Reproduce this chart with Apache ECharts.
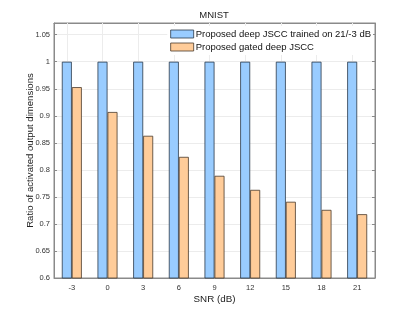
<!DOCTYPE html>
<html><head><meta charset="utf-8">
<script src="https://cdn.jsdelivr.net/npm/echarts@6/dist/echarts.min.js"></script>
<style>html,body{margin:0;padding:0;background:#fff}#c{width:415px;height:312px}</style>
</head><body><div id="c"></div>
<script>
const categories = ['-3','0','3','6','9','12','15','18','21'];
const fixedDims = [1,1,1,1,1,1,1,1,1];
const gatedDims = [0.953,0.907,0.863,0.824,0.789,0.763,0.741,0.726,0.718];
const seriesNames = ['Proposed deep JSCC trained on 21/-3 dB','Proposed gated deep JSCC'];
const FONT = 'Liberation Sans, Arial, Helvetica, sans-serif';
const axisCol = '#8a8a8a';
const chart = echarts.init(document.getElementById('c'), null, {renderer:'canvas'});
chart.setOption({
  animation:false,
  backgroundColor:'#fff',
  title:{text:'MNIST',left:214,top:10,textAlign:'center',padding:0,textStyle:{fontFamily:FONT,fontSize:9.5,fontWeight:'normal',color:'#222'}},
  legend:{
    orient:'vertical',right:42,top:26,itemWidth:23,itemHeight:8,itemGap:3,
    backgroundColor:'#fff',padding:[3,2,3,3],
    itemStyle:{borderWidth:0.8},
    textStyle:{fontFamily:FONT,fontSize:9.5,color:'#111',padding:[0,0,0,-3]},
    data:seriesNames.map(n=>({name:n,icon:'rect'}))
  },
  grid:{left:54,right:40,top:23,bottom:34,show:true,borderColor:axisCol,borderWidth:1,backgroundColor:'transparent'},
  xAxis:[{
    type:'category',data:categories,
    name:'SNR (dB)',nameLocation:'middle',nameGap:16,nameMoveOverlap:false,
    nameTextStyle:{fontFamily:FONT,fontSize:9.8,color:'#222'},
    axisLine:{lineStyle:{color:axisCol}},
    axisTick:{alignWithLabel:true,inside:true,length:3,lineStyle:{color:axisCol}},
    axisLabel:{fontFamily:FONT,fontSize:7.5,color:'#333',margin:6},
    splitLine:{show:false}
  },{
    type:'category',data:categories,position:'top',
    axisLine:{lineStyle:{color:axisCol}},
    axisTick:{alignWithLabel:true,inside:true,length:3,lineStyle:{color:axisCol}},
    axisLabel:{show:false}
  }],
  yAxis:[{
    type:'value',min:0.6,max:1.0716,interval:0.05,
    name:'Ratio of activated output dimensions',nameLocation:'middle',nameGap:19,nameMoveOverlap:false,
    nameTextStyle:{fontFamily:FONT,fontSize:9.6,color:'#222'},
    axisLine:{show:true,lineStyle:{color:axisCol}},
    axisTick:{show:true,inside:true,length:3,lineStyle:{color:axisCol}},
    axisLabel:{fontFamily:FONT,fontSize:7.5,color:'#333',margin:4,showMaxLabel:false,
      formatter:v=>{const r=Math.round(v*100)/100;return String(r);}},
    splitLine:{show:true,lineStyle:{color:'#ececec',width:1}}
  },{
    type:'value',min:0.6,max:1.0716,interval:0.05,position:'right',
    axisLine:{show:true,lineStyle:{color:axisCol}},
    axisTick:{show:true,inside:true,length:3,lineStyle:{color:axisCol}},
    axisLabel:{show:false},splitLine:{show:false}
  }],
  series:[{
    name:seriesNames[0],type:'bar',data:fixedDims,barWidth:'28%',barGap:'0%',z:3,
    itemStyle:{color:'#99ccff',borderColor:'#2b3a4a',borderWidth:0.8},
    markLine:{silent:true,symbol:'none',z:1,label:{show:false},
      lineStyle:{color:'#ececec',width:1,type:'solid'},
      data:categories.map(c=>({xAxis:c}))}
  },{
    name:seriesNames[1],type:'bar',data:gatedDims,barWidth:'28%',barGap:'0%',z:3,
    itemStyle:{color:'#ffcc99',borderColor:'#4a3a2b',borderWidth:0.8}
  }]
});
</script></body></html>
